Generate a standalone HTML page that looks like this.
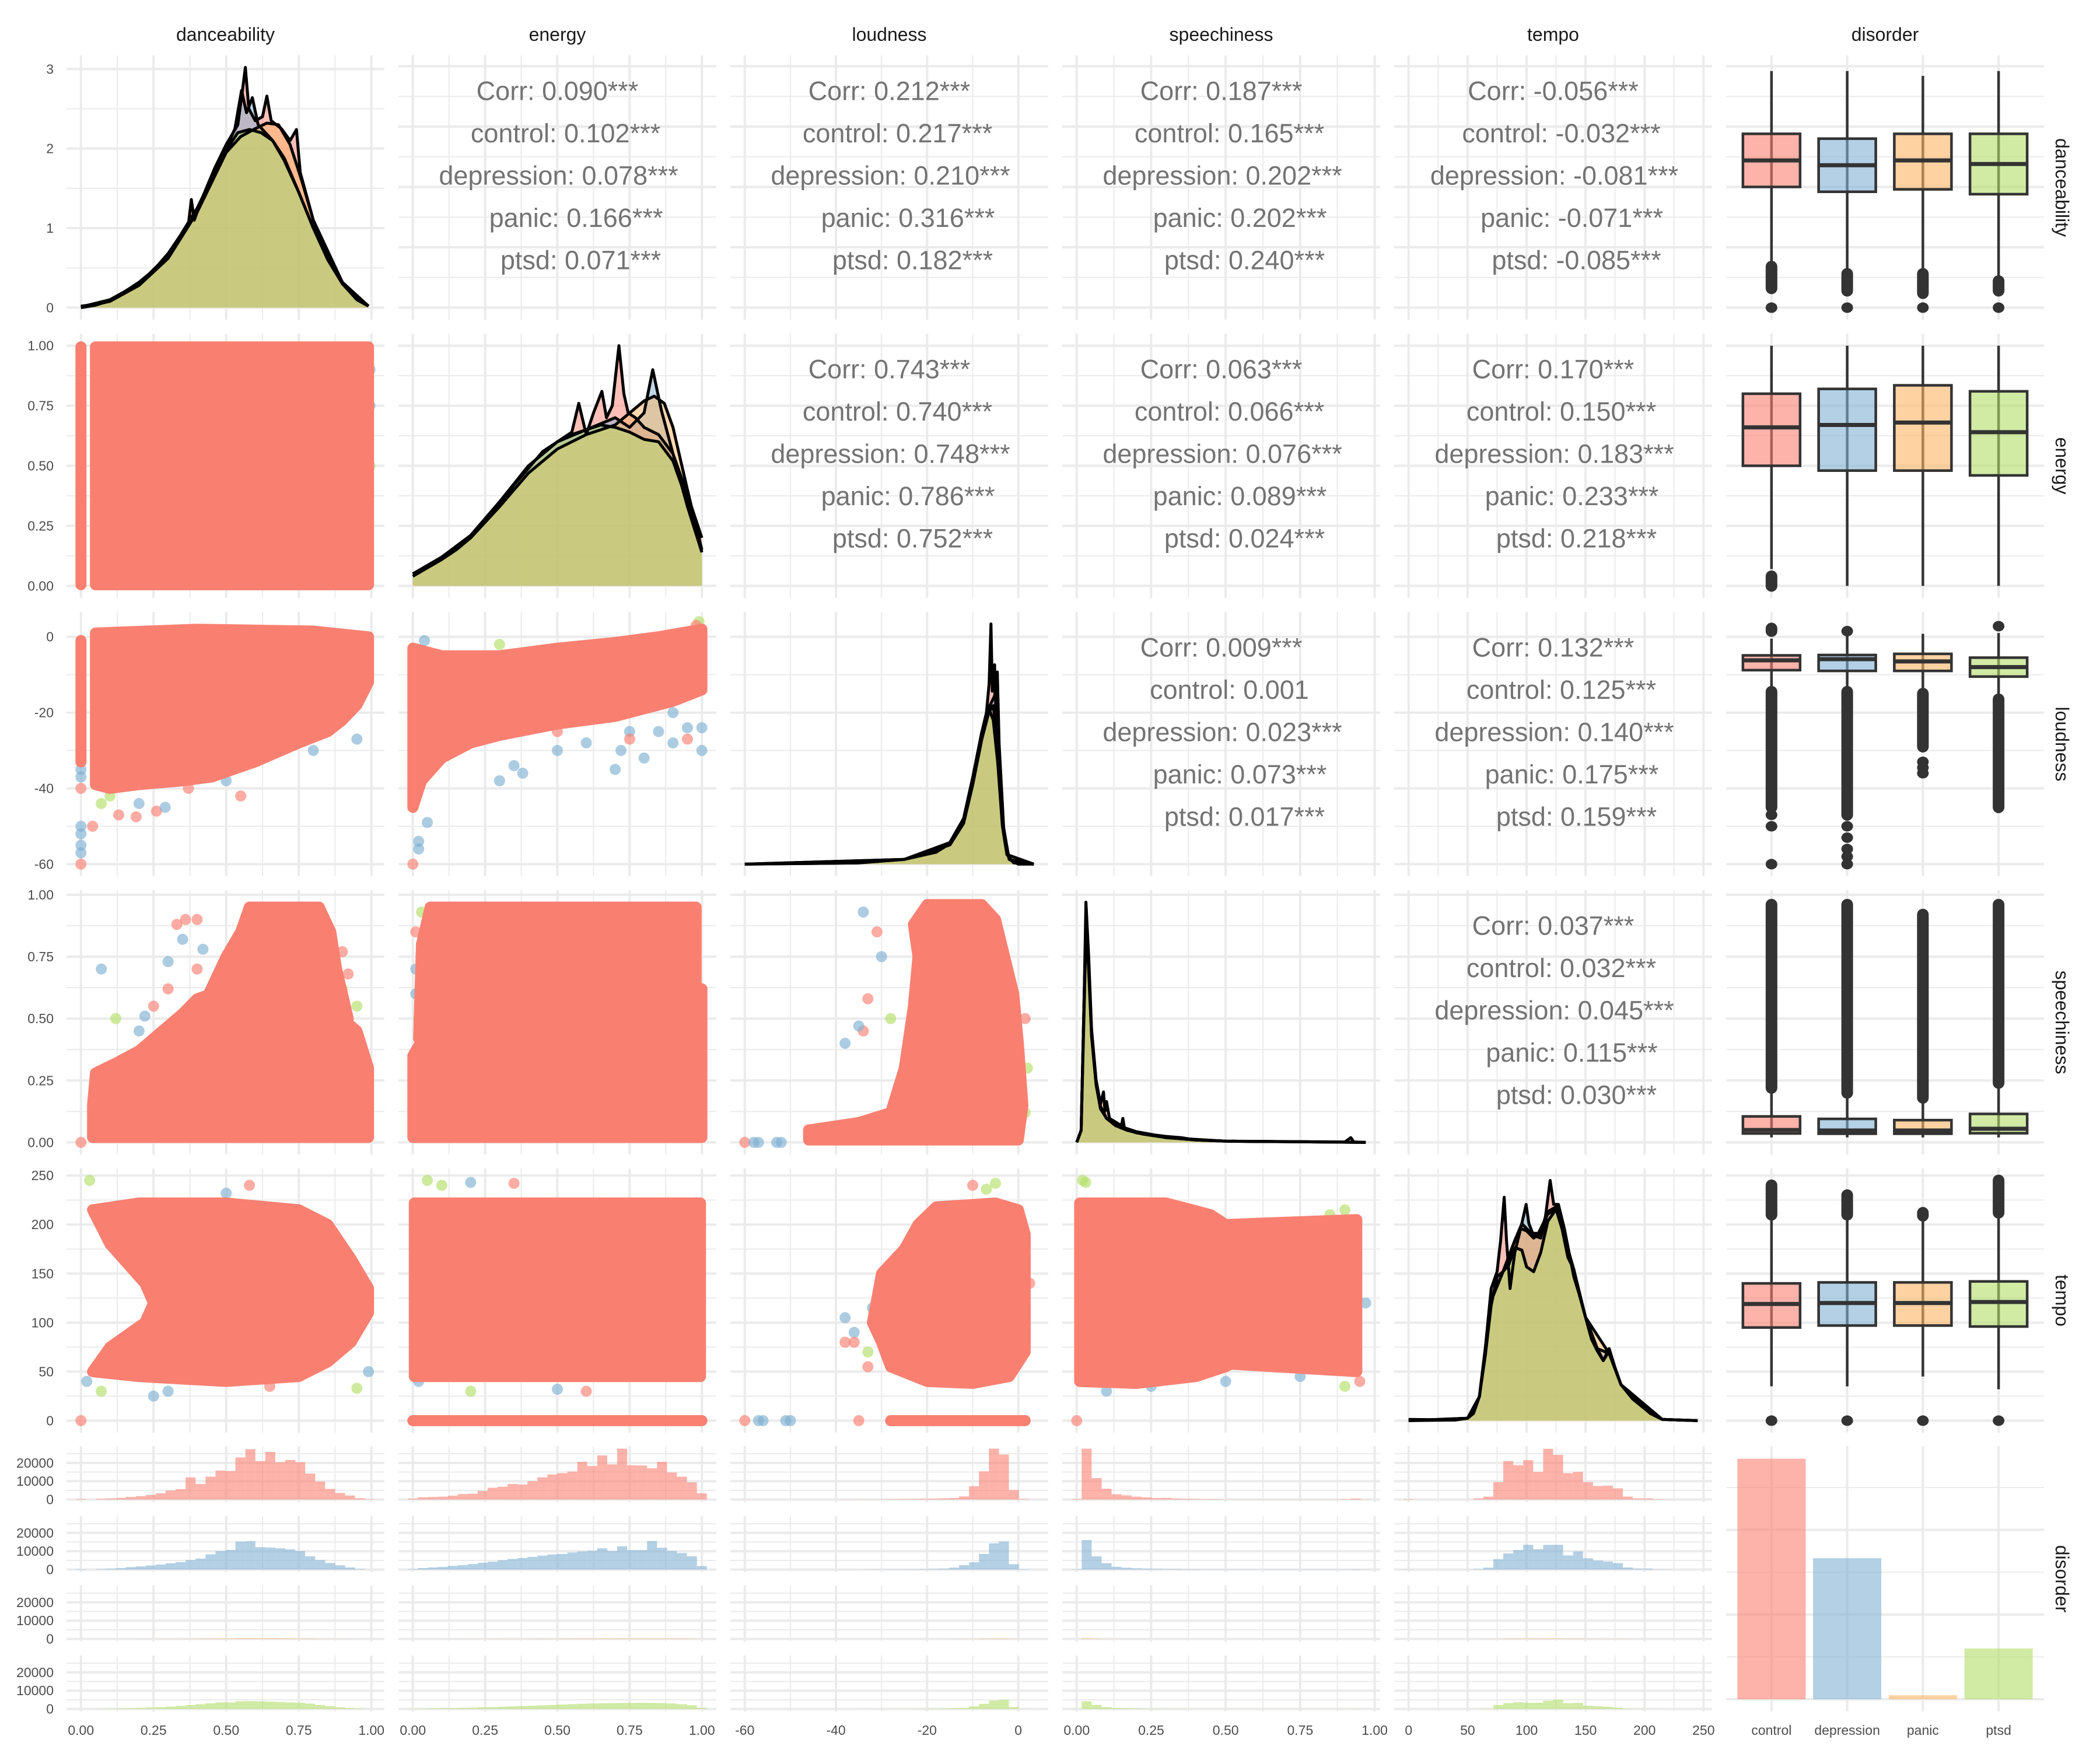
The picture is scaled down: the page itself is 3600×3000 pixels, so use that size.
<!DOCTYPE html>
<html><head><meta charset="utf-8"><title>Pairs plot</title>
<style>html,body{margin:0;padding:0;background:#fff}svg{display:block}text{font-family:"Liberation Sans",Arial,sans-serif}</style>
</head><body>
<svg id="chart" xmlns="http://www.w3.org/2000/svg" width="3600" height="3000" viewBox="0 0 3600 3000">
<rect x="0" y="0" width="3600" height="3000" fill="#ffffff"/>
</svg>
<script>
// ---------- data ----------
const VARS = ['danceability','energy','loudness','speechiness','tempo'];
const GROUPS = ['control','depression','panic','ptsd'];
const RANGES = [[0,0.995],[0,1],[-60,3.4],[0,0.97],[0,245]];
const TICKS = [[0,0.25,0.5,0.75,1],[0,0.25,0.5,0.75,1],[-60,-40,-20,0],[0,0.25,0.5,0.75,1],[0,50,100,150,200,250]];
const DENS_TICKS = [0,1,2,3];
const HIST_TICKS = [0,10000,20000];
const BAR_COUNTS = [284000,166500,4700,59900];

const dens_dance_control = [[0,0.02],[0.05,0.04],[0.1,0.1],[0.15,0.2],[0.2,0.32],[0.25,0.47],[0.3,0.68],[0.35,0.95],[0.37,1.05],[0.38,1.36],[0.39,1.1],[0.42,1.4],[0.46,1.75],[0.5,2.05],[0.54,2.3],[0.555,2.7],[0.566,3.02],[0.578,2.5],[0.6,2.35],[0.625,2.4],[0.64,2.66],[0.655,2.35],[0.69,2.25],[0.72,2.1],[0.742,2.24],[0.755,1.7],[0.8,1.1],[0.85,0.65],[0.9,0.32],[0.95,0.1],[0.99,0.02]];
const dens_dance_depression = [[0,0.01],[0.1,0.1],[0.2,0.3],[0.3,0.66],[0.4,1.25],[0.5,2.0],[0.53,2.25],[0.553,2.73],[0.57,2.45],[0.59,2.64],[0.61,2.3],[0.66,2.1],[0.7,1.88],[0.75,1.45],[0.8,1.0],[0.9,0.3],[0.99,0.02]];
const dens_dance_panic = [[0,0],[0.1,0.08],[0.2,0.28],[0.3,0.62],[0.4,1.2],[0.5,1.95],[0.55,2.15],[0.6,2.25],[0.64,2.32],[0.68,2.3],[0.72,2.05],[0.76,1.6],[0.8,1.1],[0.9,0.32],[0.99,0.02]];
const dens_dance_ptsd = [[0,0],[0.05,0.03],[0.1,0.09],[0.15,0.2],[0.2,0.3],[0.25,0.45],[0.3,0.65],[0.35,0.92],[0.4,1.25],[0.45,1.62],[0.5,1.98],[0.54,2.2],[0.58,2.24],[0.62,2.2],[0.66,2.1],[0.7,1.85],[0.75,1.45],[0.8,1.0],[0.85,0.6],[0.9,0.3],[0.95,0.1],[0.99,0.02]];
const dens_energy_control = [[0,0.05],[0.1,0.12],[0.2,0.21],[0.3,0.35],[0.4,0.5],[0.5,0.6],[0.55,0.64],[0.574,0.76],[0.6,0.63],[0.625,0.72],[0.654,0.81],[0.67,0.7],[0.69,0.75],[0.713,1.0],[0.73,0.8],[0.745,0.72],[0.77,0.7],[0.8,0.66],[0.85,0.63],[0.9,0.55],[0.95,0.38],[1,0.2]];
const dens_energy_depression = [[0,0.05],[0.1,0.12],[0.2,0.21],[0.3,0.35],[0.4,0.5],[0.5,0.6],[0.6,0.65],[0.7,0.7],[0.75,0.66],[0.8,0.72],[0.83,0.9],[0.86,0.73],[0.9,0.55],[0.95,0.33],[1,0.14]];
const dens_energy_panic = [[0,0.04],[0.1,0.11],[0.2,0.2],[0.3,0.33],[0.4,0.47],[0.5,0.57],[0.6,0.63],[0.7,0.67],[0.75,0.72],[0.8,0.77],[0.835,0.79],[0.87,0.76],[0.9,0.66],[0.95,0.4],[1,0.15]];
const dens_energy_ptsd = [[0,0.04],[0.05,0.08],[0.1,0.11],[0.15,0.15],[0.2,0.2],[0.25,0.27],[0.3,0.34],[0.35,0.42],[0.4,0.49],[0.45,0.56],[0.5,0.6],[0.55,0.63],[0.6,0.65],[0.65,0.67],[0.7,0.66],[0.75,0.64],[0.8,0.61],[0.85,0.6],[0.9,0.52],[0.95,0.35],[1,0.14]];
const dens_loud_control = [[-60,0],[-35,0.005],[-25,0.02],[-18,0.05],[-15,0.09],[-12,0.19],[-10,0.36],[-8,0.55],[-7,0.63],[-6.4,0.75],[-6,1.0],[-5.7,0.72],[-5.2,0.83],[-4.8,0.55],[-4,0.3],[-3,0.1],[-2,0.02],[0,0],[3.4,0]];
const dens_loud_depression = [[-60,0],[-25,0.02],[-15,0.09],[-12,0.19],[-10,0.36],[-8,0.55],[-6.5,0.65],[-5.2,0.7],[-4.6,0.8],[-4.2,0.5],[-3.2,0.15],[-2,0.02],[3.4,0]];
const dens_loud_panic = [[-60,0],[-25,0.02],[-15,0.08],[-12,0.17],[-10,0.33],[-8,0.52],[-6.5,0.63],[-5.5,0.66],[-4.5,0.5],[-3.5,0.2],[-2.5,0.04],[3.4,0]];
const dens_loud_ptsd = [[-60,0],[-35,0.005],[-25,0.02],[-18,0.05],[-15,0.085],[-12,0.18],[-11,0.25],[-10,0.35],[-9,0.45],[-8,0.54],[-7,0.61],[-6.3,0.64],[-5.5,0.6],[-4.5,0.42],[-3.5,0.16],[-2.5,0.04],[-1,0.005],[3.4,0]];
const dens_speech_control = [[0,0],[0.015,0.05],[0.025,0.6],[0.031,1.0],[0.04,0.78],[0.05,0.47],[0.065,0.26],[0.08,0.16],[0.09,0.21],[0.095,0.13],[0.1,0.17],[0.11,0.1],[0.15,0.07],[0.155,0.1],[0.16,0.06],[0.2,0.04],[0.3,0.025],[0.35,0.02],[0.4,0.01],[0.5,0.005],[0.9,0.002],[0.92,0.02],[0.93,0.002],[0.97,0]];
const dens_speech_depression = [[0,0],[0.015,0.05],[0.025,0.6],[0.032,0.97],[0.04,0.76],[0.05,0.46],[0.065,0.25],[0.08,0.15],[0.1,0.1],[0.15,0.065],[0.2,0.045],[0.3,0.022],[0.4,0.01],[0.5,0.005],[0.97,0]];
const dens_speech_panic = [[0,0],[0.015,0.05],[0.025,0.55],[0.032,0.92],[0.04,0.72],[0.05,0.44],[0.065,0.24],[0.08,0.14],[0.1,0.1],[0.15,0.06],[0.2,0.04],[0.3,0.02],[0.5,0.005],[0.97,0]];
const dens_speech_ptsd = [[0,0],[0.015,0.05],[0.025,0.6],[0.032,0.95],[0.04,0.75],[0.05,0.45],[0.065,0.25],[0.08,0.15],[0.1,0.1],[0.13,0.07],[0.17,0.05],[0.22,0.035],[0.3,0.02],[0.4,0.01],[0.5,0.005],[0.97,0]];
const dens_tempo_control = [[0,0.005],[40,0.003],[50,0.01],[60,0.1],[65,0.3],[70,0.55],[75,0.62],[78,0.75],[81,0.93],[83,0.75],[86,0.55],[90,0.7],[95,0.8],[100,0.79],[106,0.76],[112,0.78],[116,0.85],[120,1.0],[123,0.9],[127,0.9],[132,0.8],[136,0.7],[140,0.6],[145,0.52],[150,0.43],[155,0.34],[160,0.29],[165,0.25],[170,0.3],[175,0.22],[180,0.15],[190,0.09],[205,0.03],[215,0.005],[245,0]];
const dens_tempo_depression = [[0,0],[50,0.01],[60,0.1],[65,0.3],[70,0.5],[80,0.62],[90,0.75],[95,0.8],[99.6,0.9],[102,0.82],[106,0.77],[112,0.76],[118,0.87],[125,0.89],[130,0.8],[140,0.62],[150,0.43],[160,0.3],[170,0.28],[180,0.15],[200,0.05],[215,0.005],[245,0]];
const dens_tempo_panic = [[0,0],[50,0.01],[60,0.1],[65,0.3],[70,0.5],[80,0.62],[90,0.75],[96,0.82],[104,0.78],[110,0.78],[118,0.86],[125,0.88],[130,0.8],[140,0.63],[150,0.43],[170,0.28],[180,0.15],[215,0.005],[245,0]];
const dens_tempo_ptsd = [[0,0],[40,0.003],[50,0.01],[55,0.03],[60,0.1],[65,0.27],[70,0.48],[75,0.6],[80,0.62],[85,0.65],[90,0.72],[96,0.71],[100,0.64],[106,0.62],[112,0.7],[118,0.83],[125,0.88],[130,0.8],[135,0.68],[140,0.63],[145,0.52],[150,0.43],[155,0.35],[160,0.3],[165,0.25],[170,0.29],[175,0.22],[180,0.15],[190,0.09],[196,0.07],[205,0.03],[215,0.005],[245,0]];

const hist_dance_control = [0.3,0,0.4,0.6,0.9,1.4,1.9,2.5,3.4,4.9,5.7,12.1,8.5,12.5,15.8,15.6,23,27.5,21,26,20.4,21.6,20.4,14.2,9.8,5.8,3.6,2.2,0.7,0.2];
const hist_dance_depression = [0.2,0,0.3,0.5,0.8,1.3,1.7,2.2,2.7,3.4,4.1,5.2,6.0,8.3,10.1,10.7,15.3,15.5,12.2,12.0,11.6,11.0,10.1,7.2,5.2,3.6,2.3,1.1,0.3,0];
const hist_dance_panic = [0,0,0,0,0,0,0.02,0.03,0.05,0.07,0.1,0.15,0.2,0.25,0.3,0.32,0.38,0.4,0.38,0.36,0.34,0.32,0.28,0.2,0.14,0.08,0.05,0.02,0.01,0];
const hist_dance_ptsd = [0,0,0.1,0.2,0.3,0.4,0.6,0.8,1.0,1.3,1.7,2.1,2.6,3.1,3.6,3.6,4.2,4.3,4.2,4.0,3.8,3.6,3.4,2.9,2.2,1.5,0.9,0.5,0.2,0];
const hist_energy_control = [0.5,1.2,1.4,1.6,2.1,3.0,3.2,4.7,6.4,7.0,8.5,8.2,10.0,12.1,13.7,14.4,15.3,20.6,18.3,24.1,19.2,27.8,18.7,18.6,17.1,20.6,14.8,12.5,9.4,3.4];
const hist_energy_depression = [0.3,0.8,1.1,1.4,2.0,2.4,3.0,3.7,4.3,5.1,5.8,6.3,6.9,7.6,8.2,8.5,9.3,9.9,10.2,11.6,10.1,12.7,10.6,10.6,15.6,11.9,10.1,9.0,7.2,1.9];
const hist_energy_panic = [0,0,0,0.01,0.02,0.03,0.04,0.05,0.07,0.08,0.1,0.12,0.14,0.16,0.18,0.2,0.22,0.24,0.26,0.28,0.3,0.32,0.3,0.32,0.3,0.3,0.28,0.24,0.18,0.05];
const hist_energy_ptsd = [0.1,0.2,0.3,0.4,0.5,0.6,0.7,0.9,1.0,1.2,1.4,1.6,1.8,2.0,2.2,2.4,2.6,2.8,3.0,3.1,3.2,3.3,3.3,3.4,3.3,3.2,3.0,2.6,2.0,0.6];
const hist_loud_control = [0.05,0,0,0,0,0,0,0,0,0,0.05,0.05,0.1,0.1,0.15,0.2,0.25,0.3,0.4,0.5,0.6,0.8,1.7,7.3,15.4,27.8,24.6,5.2,0.3,0];
const hist_loud_depression = [0.05,0,0,0,0,0,0,0,0,0,0.03,0.04,0.05,0.07,0.1,0.12,0.15,0.2,0.25,0.35,0.5,1.0,2.4,4.0,8.5,14.3,15.4,2.9,0.2,0];
const hist_loud_panic = [0,0,0,0,0,0,0,0,0,0,0,0,0,0,0,0,0,0,0,0,0.01,0.02,0.05,0.1,0.2,0.3,0.3,0.08,0,0];
const hist_loud_ptsd = [0,0,0,0,0,0,0,0,0,0,0,0.01,0.02,0.03,0.04,0.05,0.06,0.08,0.1,0.15,0.25,0.4,0.5,1.4,2.8,4.6,5.0,1.0,0.05,0];
const hist_speech_control = [0.3,27.8,11.7,5.9,2.9,2.3,1.6,1.2,0.8,0.9,0.5,0.4,0.3,0.2,0.2,0.1,0.1,0.1,0.1,0.1,0.1,0.1,0.1,0.1,0.1,0.1,0.1,0.2,0.5,0.1];
const hist_speech_depression = [0.2,16.1,7.2,3.5,1.5,1.0,0.7,0.5,0.4,0.3,0.3,0.2,0.2,0.1,0.1,0.1,0.1,0.1,0.1,0.1,0.1,0.1,0.1,0.1,0.1,0.1,0.1,0.1,0.2,0.05];
const hist_speech_panic = [0,0.4,0.2,0.1,0.05,0.03,0.02,0.02,0.01,0.01,0,0,0,0,0,0,0,0,0,0,0,0,0,0,0,0,0,0,0,0];
const hist_speech_ptsd = [0.1,4.2,2.2,1.0,0.5,0.4,0.3,0.2,0.2,0.1,0.1,0.1,0.05,0.05,0.05,0.05,0.05,0.05,0.05,0.05,0.05,0.05,0.05,0.05,0.05,0.05,0.05,0.05,0.1,0.02];
const hist_tempo_control = [0.2,0,0,0,0,0,0.05,0.6,1.6,9.5,21,18.8,21.5,15.1,27.7,24.4,14.4,15.1,9.5,7.4,7.6,6.1,1.6,0.6,0.6,0.2,0.05,0.02,0.02,0];
const hist_tempo_depression = [0.1,0,0,0,0,0,0.05,0.3,1.0,5.7,8.8,10.7,13.5,11.1,13.5,13.5,7.7,9.9,6.1,4.9,4.4,3.5,1.1,0.5,0.5,0.1,0.05,0.02,0,0];
const hist_tempo_panic = [0,0,0,0,0,0,0,0.01,0.03,0.1,0.2,0.25,0.3,0.25,0.3,0.3,0.2,0.2,0.15,0.1,0.1,0.08,0.03,0.01,0,0,0,0,0,0];
const hist_tempo_ptsd = [0.02,0,0,0,0,0,0.02,0.1,0.2,2.2,3.2,3.7,3.4,3.4,4.5,5.1,3.2,3.4,1.8,1.5,1.2,0.7,0.2,0.1,0.05,0.02,0,0,0,0];

const box_dance = [[0.19,0.50,0.61,0.72,0.98],[0.16,0.48,0.59,0.70,0.98],[0.16,0.49,0.61,0.72,0.96],[0.13,0.47,0.595,0.72,0.98]];
const box_energy = [[0.07,0.50,0.66,0.80,1.0],[0,0.48,0.67,0.82,1.0],[0,0.48,0.68,0.835,1.0],[0,0.46,0.64,0.81,1.0]];
const box_loud = [[-13.5,-8.8,-6.2,-4.9,-0.5],[-13.5,-9.0,-5.9,-4.8,0.5],[-14,-9,-6.5,-4.5,0.8],[-15.5,-10.5,-8,-5.5,1]];
const box_speech = [[0.02,0.036,0.05,0.105,0.21],[0.02,0.035,0.048,0.095,0.19],[0.02,0.035,0.048,0.09,0.17],[0.02,0.037,0.055,0.115,0.23]];
const box_tempo = [[35,95,119,140,207],[35,97,120,141,207],[45,97,120,141,208],[32,96,121,142,210]];
const out_dance_runs = [[[0.08,0.17]],[[0.07,0.14]],[[0.06,0.14]],[[0.07,0.11]]];
const out_dance_pts = [[0],[0],[0],[0]];
const out_energy_runs = [[[0.0,0.04]],[],[],[]];
const out_energy_pts = [[],[],[],[]];
const out_loud_runs = [[[-45,-14.5],[1.5,2.2]],[[-47,-14.5]],[[-29,-15]],[[-45,-16.5]]];
const out_loud_pts = [[-47,-50,-60],[1.5,-50,-53,-56,-58,-60],[-33,-34.5,-36],[2.8]];
const out_speech_runs = [[[0.22,0.96]],[[0.2,0.96]],[[0.18,0.92]],[[0.24,0.96]]];
const out_speech_pts = [[],[],[],[]];
const out_tempo_runs = [[[210,240]],[[210,230]],[[209,212]],[[212,245]]];
const out_tempo_pts = [[0],[0],[0],[0]];

const cloud_energy_dance = [[0.05,0.005],[0.99,0.005],[0.99,0.995],[0.05,0.995]];
const strip_energy_dance = [[0,0.005,0,0.995]];
const pts_energy_dance = [[0.995,0.9,1],[0.995,0.75,1],[0.99,0.15,1],[0.97,0.05,1],[0.98,0.18,3],[0.965,0.03,3],[0.995,0.5,3],[0.95,0.1,0]];
const cloud_loud_dance = [[0.05,1],[0.4,2],[0.8,1.5],[0.99,0],[0.99,-12],[0.95,-18],[0.9,-22],[0.85,-25],[0.75,-28],[0.6,-33],[0.45,-37],[0.35,-38],[0.2,-39],[0.1,-40],[0.05,-39]];
const strip_loud_dance = [[0,-1,0,-33]];
const pts_loud_dance = [[0,-35,1],[0,-37,1],[0,-50,1],[0,-52,1],[0,-55,1],[0,-57,1],[0,-60,0],[0,-40,0],[0.04,-50,0],[0.13,-47,0],[0.19,-47.5,0],[0.2,-44,1],[0.26,-46,0],[0.29,-45,1],[0.1,-42,3],[0.37,-40,0],[0.55,-42,0],[0.95,-27,1],[0.8,-30,1],[0.07,-44,3],[0.5,-38,1]];
const cloud_speech_dance = [[0.04,0.02],[0.99,0.02],[0.99,0.3],[0.95,0.45],[0.9,0.5],[0.8,0.53],[0.7,0.56],[0.6,0.6],[0.5,0.62],[0.4,0.58],[0.35,0.52],[0.28,0.45],[0.2,0.37],[0.12,0.32],[0.05,0.28],[0.04,0.15]];
const cloud2_speech_dance = [[0.42,0.55],[0.5,0.75],[0.55,0.85],[0.58,0.95],[0.82,0.95],[0.86,0.85],[0.88,0.7],[0.92,0.5],[0.7,0.5]];
const pts_speech_dance = [[0,0,0],[0.07,0.7,1],[0.22,0.51,1],[0.3,0.73,1],[0.35,0.82,1],[0.2,0.45,1],[0.25,0.55,0],[0.3,0.62,0],[0.4,0.9,0],[0.9,0.77,0],[0.92,0.68,0],[0.12,0.5,3],[0.9,0.62,3],[0.95,0.55,3],[0.33,0.88,0],[0.36,0.9,0],[0.4,0.7,0],[0.42,0.78,1]];
const cloud_tempo_dance = [[0.04,50],[0.2,45],[0.5,40],[0.75,45],[0.85,60],[0.93,80],[0.99,110],[0.99,135],[0.93,165],[0.85,200],[0.75,215],[0.5,222],[0.2,222],[0.04,215],[0.1,180],[0.22,140],[0.25,120],[0.22,100],[0.1,75]];
const pts_tempo_dance = [[0,0,0],[0.03,245,3],[0.07,30,3],[0.95,33,3],[0.58,240,0],[0.65,35,0],[0.5,232,1],[0.02,40,1],[0.25,25,1],[0.99,50,1],[0.3,30,1]];
const cloud_loud_energy = [[0,-3],[0.1,-5],[0.3,-5],[0.5,-3],[0.7,-1.5],[0.85,0],[1,2],[1,-14],[0.9,-17],[0.8,-19],[0.7,-21],[0.5,-23],[0.3,-26],[0.2,-28],[0.1,-32],[0.03,-38],[0,-45]];
const pts_loud_energy = [[0.02,-5,1],[0.04,-1,1],[0.1,-20,1],[0.3,-38,1],[0.35,-34,1],[0.38,-36,1],[0.5,-30,1],[0.6,-28,1],[0.7,-35,1],[0.72,-30,1],[0.75,-25,1],[0.85,-25,1],[0.9,-28,1],[0.95,-24,1],[1,-24,1],[1,-30,1],[0.9,-20,1],[0.8,-32,1],[0.05,-49,1],[0.02,-54,1],[0.02,-56,1],[0,-60,0],[0.75,-27,0],[0.5,-25,0],[0.95,-27,0],[0.3,-2,3],[0.7,-16,3],[0.99,4,3],[0.98,3,0]];
const cloud_speech_energy = [[0,0.02],[1,0.02],[1,0.62],[0.9,0.6],[0.7,0.58],[0.5,0.58],[0.3,0.55],[0.15,0.5],[0.05,0.45],[0,0.35]];
const cloud2_speech_energy = [[0.02,0.42],[0.15,0.45],[0.5,0.5],[0.98,0.5],[0.98,0.95],[0.06,0.95],[0.03,0.8]];
const pts_speech_energy = [[0.01,0.7,1],[0.01,0.6,1],[0.02,0.5,3],[0.01,0.85,0],[0.03,0.93,3]];
const cloud_tempo_energy = [[0.005,45],[0.995,45],[0.995,222],[0.005,222]];
const strip_tempo_energy = [[0,0,1,0]];
const pts_tempo_energy = [[0.05,245,3],[0.1,240,3],[0.2,30,3],[0.2,243,1],[0.02,40,1],[0.5,32,1],[0.99,50,1],[0.35,242,0],[0.6,30,0]];
const cloud_speech_loud = [[-46,0.01],[-46,0.05],[-35,0.08],[-28,0.12],[-25,0.3],[-23,0.55],[-22,0.75],[-23,0.88],[-20,0.96],[-8,0.96],[-5,0.9],[-3,0.75],[-1,0.6],[0,0.4],[1,0.15],[0,0.01]];
const pts_speech_loud = [[-60,0,0],[-58,0,1],[-57,0,1],[-53,0,1],[-52,0,1],[-41,0.02,0],[-38,0.4,1],[-34,0.45,0],[-33,0.58,0],[-31,0.85,0],[-34,0.93,1],[-35,0.47,1],[-30,0.75,1],[-28,0.5,3],[1.5,0.5,0],[2,0.3,3],[1.5,0.12,3]];
const cloud_tempo_loud = [[-30,80],[-32,100],[-30,150],[-25,175],[-22,200],[-18,218],[-5,222],[0,215],[1.5,190],[1.5,70],[-2,45],[-10,38],[-20,40],[-28,55]];
const strip_tempo_loud = [[-28,0,1.5,0]];
const pts_tempo_loud = [[-60,0,0],[-57,0,1],[-56,0,1],[-51,0,1],[-50,0,1],[-35,0,0],[-38,105,1],[-36,90,1],[-32,115,1],[-38,80,0],[-36,80,0],[-33,55,0],[-10,240,0],[-7,236,3],[-5,242,3],[-30,80,3],[-33,70,3],[2.5,140,0]];
const cloud_tempo_speech = [[0.01,40],[0.01,222],[0.3,222],[0.45,210],[0.55,190],[0.65,170],[0.7,140],[0.7,90],[0.6,70],[0.5,55],[0.4,45],[0.2,38]];
const cloud2_tempo_speech = [[0.5,58],[0.94,50],[0.94,205],[0.5,200]];
const pts_tempo_speech = [[0,0,0],[0.02,245,3],[0.03,243,3],[0.1,30,1],[0.25,35,1],[0.5,40,1],[0.75,45,1],[0.9,35,3],[0.95,40,0],[0.85,210,3],[0.9,215,3],[0.97,120,1]];

const CORR = {
 '0,1':['Corr: 0.090***','control: 0.102***','depression: 0.078***','panic: 0.166***','ptsd: 0.071***'],
 '0,2':['Corr: 0.212***','control: 0.217***','depression: 0.210***','panic: 0.316***','ptsd: 0.182***'],
 '0,3':['Corr: 0.187***','control: 0.165***','depression: 0.202***','panic: 0.202***','ptsd: 0.240***'],
 '0,4':['Corr: -0.056***','control: -0.032***','depression: -0.081***','panic: -0.071***','ptsd: -0.085***'],
 '1,2':['Corr: 0.743***','control: 0.740***','depression: 0.748***','panic: 0.786***','ptsd: 0.752***'],
 '1,3':['Corr: 0.063***','control: 0.066***','depression: 0.076***','panic: 0.089***','ptsd: 0.024***'],
 '1,4':['Corr: 0.170***','control: 0.150***','depression: 0.183***','panic: 0.233***','ptsd: 0.218***'],
 '2,3':['Corr: 0.009***','control: 0.001','depression: 0.023***','panic: 0.073***','ptsd: 0.017***'],
 '2,4':['Corr: 0.132***','control: 0.125***','depression: 0.140***','panic: 0.175***','ptsd: 0.159***'],
 '3,4':['Corr: 0.037***','control: 0.032***','depression: 0.045***','panic: 0.115***','ptsd: 0.030***']
};

// ---------- layout ----------
const NS = 'http://www.w3.org/2000/svg';
const svg = document.getElementById('chart');
const W = 545, H = 453;
const colX = [114,683,1252,1821,2390,2959];
const rowY = [95,572,1049,1526,2003,2480];
const subTop = [2479,2599,2718,2838], subH = 96;
const COLORS = ['#FB8072','#80B1D3','#FDB462','#B3DE69'];
const CLOUD = '#F98071';
const DENS = [[dens_dance_control,dens_dance_depression,dens_dance_panic,dens_dance_ptsd],[dens_energy_control,dens_energy_depression,dens_energy_panic,dens_energy_ptsd],[dens_loud_control,dens_loud_depression,dens_loud_panic,dens_loud_ptsd],[dens_speech_control,dens_speech_depression,dens_speech_panic,dens_speech_ptsd],[dens_tempo_control,dens_tempo_depression,dens_tempo_panic,dens_tempo_ptsd]];
const HIST = [[hist_dance_control,hist_dance_depression,hist_dance_panic,hist_dance_ptsd],[hist_energy_control,hist_energy_depression,hist_energy_panic,hist_energy_ptsd],[hist_loud_control,hist_loud_depression,hist_loud_panic,hist_loud_ptsd],[hist_speech_control,hist_speech_depression,hist_speech_panic,hist_speech_ptsd],[hist_tempo_control,hist_tempo_depression,hist_tempo_panic,hist_tempo_ptsd]];
const BOX = [box_dance,box_energy,box_loud,box_speech,box_tempo];
const OUT_RUNS = [out_dance_runs,out_energy_runs,out_loud_runs,out_speech_runs,out_tempo_runs];
const OUT_PTS = [out_dance_pts,out_energy_pts,out_loud_pts,out_speech_pts,out_tempo_pts];
const SCAT = {
 '1,0':{c:[cloud_energy_dance],s:strip_energy_dance,p:pts_energy_dance},
 '2,0':{c:[cloud_loud_dance],s:strip_loud_dance,p:pts_loud_dance},
 '3,0':{c:[cloud_speech_dance,cloud2_speech_dance],s:[],p:pts_speech_dance},
 '4,0':{c:[cloud_tempo_dance],s:[],p:pts_tempo_dance},
 '2,1':{c:[cloud_loud_energy],s:[],p:pts_loud_energy},
 '3,1':{c:[cloud_speech_energy,cloud2_speech_energy],s:[],p:pts_speech_energy},
 '4,1':{c:[cloud_tempo_energy],s:strip_tempo_energy,p:pts_tempo_energy},
 '3,2':{c:[cloud_speech_loud],s:[],p:pts_speech_loud},
 '4,2':{c:[cloud_tempo_loud],s:strip_tempo_loud,p:pts_tempo_loud},
 '4,3':{c:[cloud_tempo_speech,cloud2_tempo_speech],s:[],p:pts_tempo_speech}
};

function mk(tag, attrs, name, parent) {
  const el = document.createElementNS(NS, tag);
  for (const k in attrs) el.setAttribute(k, attrs[k]);
  
  
  (parent || svg).appendChild(el);
  return el;
}
function mapX(lo, hi, left, w) { return v => left + w * ((v - lo) / (hi - lo) + 0.05) / 1.1; }
function mapY(lo, hi, top, h) { return v => top + h - h * ((v - lo) / (hi - lo) + 0.05) / 1.1; }
function minors(maj, lo, hi) {
  const st = maj[1] - maj[0], pad = 0.05 * (hi - lo), out = [];
  if (maj[0] - st / 2 >= lo - pad) out.push(maj[0] - st / 2);
  for (let i = 0; i < maj.length - 1; i++) out.push((maj[i] + maj[i + 1]) / 2);
  if (maj[maj.length - 1] + st / 2 <= hi + pad) out.push(maj[maj.length - 1] + st / 2);
  return out;
}
function fmt(vi, v) { return (vi === 2 || vi === 4) ? String(v) : v.toFixed(2); }
function grid(g, left, top, w, h, xMaj, xMin, yMaj, yMin) {
  xMin.forEach(x => mk('line', {x1:x, x2:x, y1:top, y2:top+h, stroke:'#ebebeb', 'stroke-width':2}, 'grid-minor-x', g));
  yMin.forEach(y => mk('line', {x1:left, x2:left+w, y1:y, y2:y, stroke:'#ebebeb', 'stroke-width':2}, 'grid-minor-y', g));
  xMaj.forEach(x => mk('line', {x1:x, x2:x, y1:top, y2:top+h, stroke:'#ebebeb', 'stroke-width':4}, 'grid-major-x', g));
  yMaj.forEach(y => mk('line', {x1:left, x2:left+w, y1:y, y2:y, stroke:'#ebebeb', 'stroke-width':4}, 'grid-major-y', g));
}
function varGridX(vi, left) { const f = mapX(RANGES[vi][0], RANGES[vi][1], left, W); return [TICKS[vi].map(f), minors(TICKS[vi], RANGES[vi][0], RANGES[vi][1]).map(f)]; }
function varGridY(vi, top, h) { const f = mapY(RANGES[vi][0], RANGES[vi][1], top, h); return [TICKS[vi].map(f), minors(TICKS[vi], RANGES[vi][0], RANGES[vi][1]).map(f)]; }
function catX(i, left) { return left + W * ((i + 1) - 0.4) / 4.2; }
function polyPts(arr, fx, fy) { return arr.map(p => fx(p[0]).toFixed(1) + ',' + fy(p[1]).toFixed(1)).join(' '); }

const topLabels = VARS.concat(['disorder']);
topLabels.forEach((t, i) => {
  const el = mk('text', {x: colX[i] + W / 2, y: 70, 'text-anchor':'middle', 'font-size':32, fill:'#1a1a1a'}, 'column-strip-label', svg);
  el.textContent = t;
});
const rowCenters = [0,1,2,3,4].map(r => rowY[r] + H / 2).concat([(subTop[0] + subTop[3] + subH) / 2]);
topLabels.forEach((t, i) => {
  const el = mk('text', {x: 0, y: 0, 'text-anchor':'middle', 'font-size':32, fill:'#1a1a1a', transform:`translate(3524,${rowCenters[i]}) rotate(90)`}, 'row-strip-label', svg);
  el.textContent = t;
});

for (let r = 0; r < 5; r++) {
  for (let c = 0; c < 6; c++) {
    const left = colX[c], top = rowY[r];
    const g = mk('g', {}, `panel-${VARS[r]}-${c < 5 ? VARS[c] : 'disorder'}`, svg);
    if (c === 5) {
      const [ym, yn] = varGridY(r, top, H);
      const xm = [0,1,2,3].map(i => catX(i, left));
      grid(g, left, top, W, H, xm, [], ym, yn);
      const fy = mapY(RANGES[r][0], RANGES[r][1], top, H);
      for (let k = 0; k < 4; k++) {
        const st = BOX[r][k], cx = catX(k, left), bw = 98;
        mk('line', {x1:cx, x2:cx, y1:fy(st[0]), y2:fy(st[4]), stroke:'#333', 'stroke-width':4.5}, `box-whisker-${GROUPS[k]}`, g);
        mk('rect', {x:cx - bw/2, y:fy(st[3]), width:bw, height:fy(st[1]) - fy(st[3]), fill:COLORS[k], 'fill-opacity':0.6, stroke:'#333', 'stroke-width':4.5}, `box-${GROUPS[k]}`, g);
        mk('line', {x1:cx - bw/2, x2:cx + bw/2, y1:fy(st[2]), y2:fy(st[2]), stroke:'#333', 'stroke-width':7}, `box-median-${GROUPS[k]}`, g);
        OUT_RUNS[r][k].forEach(run => mk('line', {x1:cx, x2:cx, y1:fy(run[0]), y2:fy(run[1]), stroke:'#333', 'stroke-width':20, 'stroke-linecap':'round'}, `box-outliers-${GROUPS[k]}`, g));
        OUT_PTS[r][k].forEach(v => mk('ellipse', {cx:cx, cy:fy(v), rx:10, ry:9, fill:'#333'}, `box-outlier-${GROUPS[k]}`, g));
      }
    } else if (r === c) {
      const [xm, xn] = varGridX(c, left);
      let fy, ym, yn;
      if (r === 0) {
        fy = mapY(0, 3.02, top, H);
        ym = DENS_TICKS.map(fy); yn = minors(DENS_TICKS, 0, 3.02).map(fy);
      } else {
        fy = mapY(0, 1, top, H);
        [ym, yn] = varGridY(r, top, H);
      }
      grid(g, left, top, W, H, xm, xn, ym, yn);
      const fx = mapX(RANGES[c][0], RANGES[c][1], left, W);
      for (let k = 0; k < 4; k++) {
        const d = DENS[c][k];
        const pts = polyPts(d, fx, fy);
        const base = fx(d[0][0]).toFixed(1) + ',' + fy(0).toFixed(1);
        const end = fx(d[d.length - 1][0]).toFixed(1) + ',' + fy(0).toFixed(1);
        mk('polygon', {points: base + ' ' + pts + ' ' + end, fill:COLORS[k], 'fill-opacity':0.5, stroke:'none'}, `density-area-${GROUPS[k]}`, g);
      }
      for (let k = 0; k < 4; k++) {
        mk('polyline', {points: polyPts(DENS[c][k], fx, fy), fill:'none', stroke:'#000', 'stroke-width':5, 'stroke-linejoin':'round'}, `density-line-${GROUPS[k]}`, g);
      }
    } else if (c > r) {
      const [xm, xn] = varGridX(c, left);
      const [ym, yn] = varGridY(r, top, H);
      grid(g, left, top, W, H, xm, xn, ym, yn);
      const lines = CORR[r + ',' + c];
      const offs = [0, 14, 2, 32, 40];
      lines.forEach((t, i) => {
        const el = mk('text', {x: left + W / 2 + offs[i], y: top + 61 + i * 72.5, 'text-anchor':'middle', 'dominant-baseline':'central', 'font-size':45, fill:'#737373'}, i === 0 ? 'corr-overall' : `corr-${GROUPS[i-1]}`, g);
        el.textContent = t;
      });
    } else {
      const [xm, xn] = varGridX(c, left);
      const [ym, yn] = varGridY(r, top, H);
      grid(g, left, top, W, H, xm, xn, ym, yn);
      const fx = mapX(RANGES[c][0], RANGES[c][1], left, W);
      const fy = mapY(RANGES[r][0], RANGES[r][1], top, H);
      const sp = SCAT[r + ',' + c];
      sp.p.forEach(p => mk('circle', {cx:fx(p[0]), cy:fy(p[1]), r:9.5, fill:COLORS[p[2]], 'fill-opacity':0.65}, `point-${GROUPS[p[2]]}`, g));
      sp.c.forEach(poly => mk('polygon', {points: polyPts(poly, fx, fy), fill:CLOUD, stroke:CLOUD, 'stroke-width':19, 'stroke-linejoin':'round'}, 'point-cloud', g));
      sp.s.forEach(s => mk('line', {x1:fx(s[0]), y1:fy(s[1]), x2:fx(s[2]), y2:fy(s[3]), stroke:CLOUD, 'stroke-width':19, 'stroke-linecap':'round'}, 'point-strip', g));
    }
  }
}

for (let c = 0; c < 5; c++) {
  const left = colX[c];
  const [lo, hi] = RANGES[c];
  const fx = mapX(lo, hi, left, W);
  const bw = (hi - lo) / 29;
  for (let k = 0; k < 4; k++) {
    const top = subTop[k];
    const g = mk('g', {}, `histogram-${VARS[c]}-${GROUPS[k]}`, svg);
    const fy = mapY(0, 27800, top, subH);
    const [xm, xn] = varGridX(c, left);
    grid(g, left, top, W, subH, xm, xn, HIST_TICKS.map(fy), [5000,15000,25000].map(fy));
    HIST[c][k].forEach((v, i) => {
      if (v <= 0) return;
      const x0 = fx(lo + (i - 0.5) * bw), x1 = fx(lo + (i + 0.5) * bw);
      mk('rect', {x:x0, y:fy(v * 1000), width:x1 - x0, height:fy(0) - fy(v * 1000), fill:COLORS[k], 'fill-opacity':0.6}, `hist-bar-${GROUPS[k]}`, g);
    });
  }
}
{
  const left = colX[5], top = subTop[0], h = subTop[3] + subH - subTop[0];
  const g = mk('g', {}, 'panel-disorder-bar', svg);
  const base = 2913, scale = 72.6 / 50000;
  const fy = v => base - v * scale;
  const yl = [0,50000,100000,150000,200000,250000];
  grid(g, left, top, W, h, [0,1,2,3].map(i => catX(i, left)), [], yl.filter((v,i)=>i%2===0).map(fy), yl.filter((v,i)=>i%2===1).map(fy));
  BAR_COUNTS.forEach((v, k) => {
    mk('rect', {x:catX(k, left) - 58.5, y:fy(v), width:117, height:fy(0) - fy(v), fill:COLORS[k], 'fill-opacity':0.6}, `bar-${GROUPS[k]}`, g);
  });
}

for (let c = 0; c < 5; c++) {
  const fx = mapX(RANGES[c][0], RANGES[c][1], colX[c], W);
  TICKS[c].forEach(v => {
    const el = mk('text', {x:fx(v), y:2974, 'text-anchor':'middle', 'font-size':23, fill:'#4d4d4d'}, 'x-tick-label', svg);
    el.textContent = fmt(c, v);
  });
}
GROUPS.forEach((gname, k) => {
  const el = mk('text', {x:catX(k, colX[5]), y:2974, 'text-anchor':'middle', 'font-size':23, fill:'#4d4d4d'}, 'x-tick-label', svg);
  el.textContent = gname;
});
{
  const fy = mapY(0, 3.02, rowY[0], H);
  DENS_TICKS.forEach(v => {
    const el = mk('text', {x:92, y:fy(v) + 8, 'text-anchor':'end', 'font-size':23, fill:'#4d4d4d'}, 'y-tick-label', svg);
    el.textContent = String(v);
  });
}
for (let r = 1; r < 5; r++) {
  const fy = mapY(RANGES[r][0], RANGES[r][1], rowY[r], H);
  TICKS[r].forEach(v => {
    const el = mk('text', {x:92, y:fy(v) + 8, 'text-anchor':'end', 'font-size':23, fill:'#4d4d4d'}, 'y-tick-label', svg);
    el.textContent = fmt(r, v);
  });
}
for (let k = 0; k < 4; k++) {
  const fy = mapY(0, 27800, subTop[k], subH);
  HIST_TICKS.forEach(v => {
    const el = mk('text', {x:92, y:fy(v) + 8, 'text-anchor':'end', 'font-size':23, fill:'#4d4d4d'}, 'y-tick-label', svg);
    el.textContent = String(v);
  });
}
</script>
</body></html>
